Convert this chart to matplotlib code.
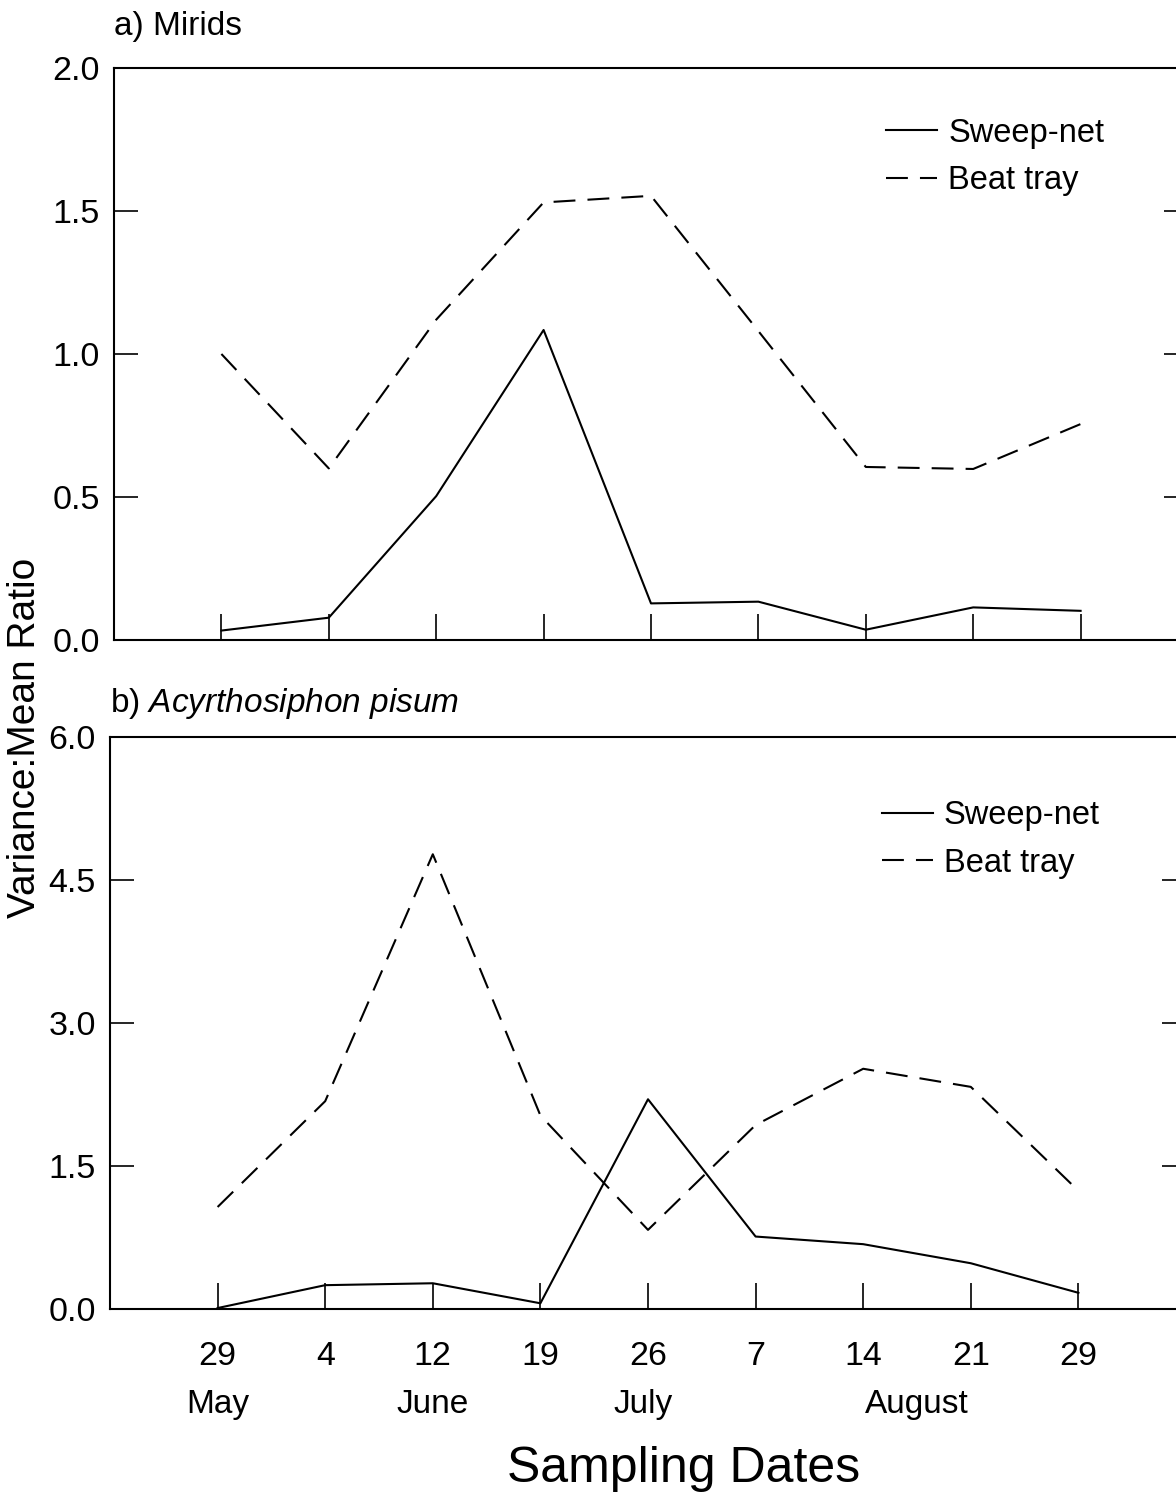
#!/usr/bin/env python3
"""
Variance:mean ratio of mirid and pea aphid counts by sampling date,
sweep-net vs. beat tray, two stacked panels.
"""

import matplotlib
matplotlib.use("Agg")
import matplotlib.pyplot as plt

# ------------------------------------------------------------
# Data
# ------------------------------------------------------------
DAYS = ["29", "4", "12", "19", "26", "7", "14", "21", "29"]
MONTHS = ["May", "June", "July", "August"]
MONTH_POS = [0, 2, 3.95, 6.5]

MIRID_SWEEP = [0.033, 0.078, 0.503, 1.084, 0.128, 0.134, 0.036, 0.114, 0.102]
MIRID_BEAT = [1.0, 0.60, 1.12, 1.53, 1.553, 1.08, 0.605, 0.598, 0.755]

APHID_SWEEP = [0.01, 0.25, 0.27, 0.06, 2.20, 0.76, 0.68, 0.48, 0.17]
APHID_BEAT = [1.07, 2.18, 4.77, 2.03, 0.83, 1.93, 2.52, 2.33, 1.24]

MIRID_YTICKS = [0.0, 0.5, 1.0, 1.5, 2.0]
APHID_YTICKS = [0.0, 1.5, 3.0, 4.5, 6.0]

FONT = "Liberation Sans"
plt.rcParams["font.family"] = [FONT, "DejaVu Sans"]
plt.rcParams["mathtext.fontset"] = "custom"
plt.rcParams["mathtext.rm"] = FONT
plt.rcParams["mathtext.it"] = f"{FONT}:italic"

LW = 1.5
DASH = (0, (10.5, 5.8))
W, H = 1176, 1497


def frac(px_left, px_top, px_right, px_bottom):
    return [px_left / W, 1 - px_bottom / H,
            (px_right - px_left) / W, (px_bottom - px_top) / H]


def style_axes(ax, yticks, ymax, show_xlabels):
    x = range(len(DAYS))
    ax.set_xlim(-1, len(DAYS))
    ax.set_ylim(0, ymax)
    ax.set_xticks(list(x))
    ax.set_xticklabels(DAYS if show_xlabels else [])
    ax.set_yticks(yticks)
    ax.set_yticklabels([f"{v:.1f}" for v in yticks])
    ax.tick_params(axis="y", direction="in", length=17, width=1.2,
                   left=True, right=True, labelright=False,
                   labelsize=24.5, pad=10)
    ax.tick_params(axis="x", direction="in", length=19, width=1.2,
                   top=False, labelsize=24.5, pad=23)
    for s in ax.spines.values():
        s.set_linewidth(1.5)


def draw_panel(ax, sweep, beat):
    x = range(len(DAYS))
    ax.plot(x, sweep, color="black", lw=LW, label="Sweep-net")
    ax.plot(x, beat, color="black", lw=LW, linestyle=DASH, label="Beat tray")


def add_legend(ax, x0, y0):
    ax.legend(loc="upper left", bbox_to_anchor=(x0, y0), frameon=False,
              fontsize=23.5, handlelength=1.55, handletextpad=0.35,
              labelspacing=0.5, borderpad=0, borderaxespad=0)


def main():
    fig = plt.figure(figsize=(W / 100, H / 100), dpi=100)

    # (a) Mirids
    ax1 = fig.add_axes(frac(114, 68, 1188, 640))
    draw_panel(ax1, MIRID_SWEEP, MIRID_BEAT)
    style_axes(ax1, MIRID_YTICKS, 2.0, show_xlabels=False)
    add_legend(ax1, 0.719, 0.913)
    ax1.text(0.0, 1 + 33 / 572, "a) Mirids", transform=ax1.transAxes,
             ha="left", va="baseline", fontsize=24)

    # (b) Acyrthosiphon pisum
    ax2 = fig.add_axes(frac(110, 737, 1186, 1309))
    draw_panel(ax2, APHID_SWEEP, APHID_BEAT)
    style_axes(ax2, APHID_YTICKS, 6.0, show_xlabels=True)
    add_legend(ax2, 0.7175, 0.889)
    ax2.text(0.0, 1 + 25 / 572, r"b) $\it{Acyrthosiphon\ pisum}$",
             transform=ax2.transAxes, ha="left", va="baseline", fontsize=24)

    # month names under the day labels
    for name, pos in zip(MONTHS, MONTH_POS):
        ax2.text(pos, -104 / 572, name, transform=ax2.get_xaxis_transform(),
                 ha="center", va="baseline", fontsize=24)

    fig.text(25 / W, 1 - 738 / H, "Variance:Mean Ratio", rotation=90,
             ha="center", va="center", fontsize=28)
    fig.text(684 / W, 1 - 1482 / H, "Sampling Dates",
             ha="center", va="baseline", fontsize=36)

    fig.savefig("out.png", dpi=100)


if __name__ == "__main__":
    main()
